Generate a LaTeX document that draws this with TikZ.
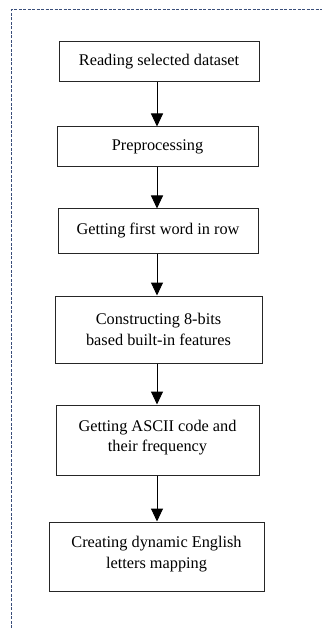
\documentclass[tikz,border=0pt]{standalone}
\usepackage{fontspec}
\setmainfont{Liberation Serif}
\usetikzlibrary{arrows.meta}
\definecolor{frameblue}{RGB}{58,78,122}
\tikzset{
  stepbox/.style={draw=black!85, line width=1pt, rectangle, align=center,
    inner sep=0pt, font=\fontsize{16.3}{20.5}\selectfont},
  flow/.style={draw=black, line width=1pt,
    -{Triangle[width=12pt,length=13pt]}},
  frame/.style={draw=frameblue, line width=1pt, dash pattern=on 3pt off 1.5pt}
}
\begin{document}
\begin{tikzpicture}[x=1pt,y=1pt]
\useasboundingbox (0,0) rectangle (322,-628);
% dashed frame along the top and left edges
\coordinate (fbl) at (11,-628);
\coordinate (ftl) at (11,-10);
\coordinate (ftr) at (322,-10);
\draw[frame] (fbl) -- (ftl) -- (ftr);

% process steps
\node[stepbox, minimum width=200pt, minimum height=40pt] (s1) at (159,-62)
  {Reading selected dataset};
\node[stepbox, minimum width=201pt, minimum height=40pt] (s2) at (157.5,-147)
  {Preprocessing};
\node[stepbox, minimum width=200pt, minimum height=44pt] (s3) at (158,-231)
  {Getting first word in row};
\node[stepbox, minimum width=207pt, minimum height=67pt] (s4) at (158.5,-329.5)
  {Constructing 8-bits\\based built-in features};
\node[stepbox, minimum width=203pt, minimum height=70pt, text depth=8pt] (s5) at (157.5,-440)
  {Getting ASCII code and\\their frequency};
\node[stepbox, minimum width=215pt, minimum height=69pt, text depth=8pt] (s6) at (156.5,-556.5)
  {Creating dynamic English\\letters mapping};

% connectors
\draw[flow] (s1.south -| 157,0) -- (s2.north -| 157,0);
\draw[flow] (s2.south -| 157,0) -- (s3.north -| 157,0);
\draw[flow] (s3.south -| 157,0) -- (s4.north -| 157,0);
\draw[flow] (s4.south -| 157,0) -- (s5.north -| 157,0);
\draw[flow] (s5.south -| 157,0) -- (s6.north -| 157,0);
\end{tikzpicture}
\end{document}
